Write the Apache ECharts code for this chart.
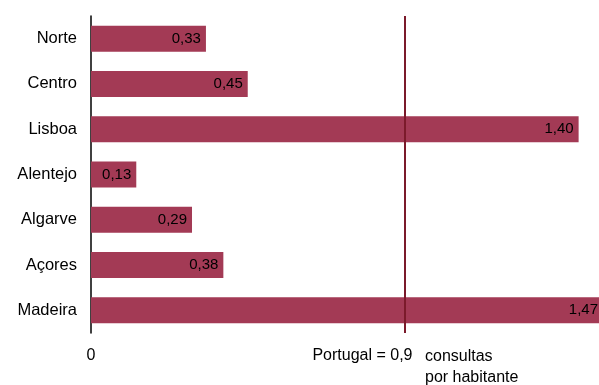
<!DOCTYPE html>
<html>
<head>
<meta charset="utf-8">
<script src="https://cdn.jsdelivr.net/npm/echarts@6/dist/echarts.min.js"></script>
<style>
  html, body { margin: 0; padding: 0; background: #fff; }
  #chart { width: 599px; height: 385px; }
</style>
</head>
<body>
<div id="chart"></div>
<script>
var regions = ["Norte", "Centro", "Lisboa", "Alentejo", "Algarve", "Açores", "Madeira"];
var consultas = [0.33, 0.45, 1.40, 0.13, 0.29, 0.38, 1.47];
var portugal = 0.9;
var tickValues = [0, 0.9];

var font = "Liberation Sans, Arial, sans-serif";

function comma(v, d) {
  return v.toFixed(d).replace(".", ",");
}

var chart = echarts.init(document.getElementById("chart"));

chart.setOption({
  animation: false,
  textStyle: { fontFamily: font },
  grid: { left: 91, top: 16, height: 317, width: 512, outerBoundsMode: "none", containLabel: false },
  xAxis: {
    type: "value",
    min: 0,
    max: 1.47,
    axisLine: { show: false },
    axisTick: { show: false },
    splitLine: { show: false },
    axisLabel: {
      customValues: tickValues,
      margin: 15,
      color: "#000",
      fontSize: 16,
      fontFamily: font,
      formatter: function (v) {
        if (v === 0) return "{z|0}";
        return "{p|Portugal = " + comma(v, 1) + "}";
      },
      rich: {
        z: { fontSize: 16, fontFamily: font, color: "#000" },
        p: { fontSize: 16, fontFamily: font, color: "#000", padding: [0, 84, 0, 0] }
      }
    }
  },
  yAxis: {
    type: "category",
    data: regions,
    inverse: true,
    axisTick: { show: false },
    axisLine: { lineStyle: { color: "#000", width: 1.5 } },
    axisLabel: { color: "#000", fontSize: 16.5, fontFamily: font, margin: 14 }
  },
  graphic: [{
    type: "text",
    left: 425,
    top: 346,
    style: {
      text: "consultas\npor habitante",
      fill: "#000",
      font: "16px " + font,
      lineHeight: 21
    }
  }],
  series: [{
    type: "bar",
    data: consultas,
    barWidth: 26,
    itemStyle: { color: "#a33a55" },
    label: {
      show: true,
      position: "insideRight",
      distance: 5,
      color: "#000",
      fontSize: 15,
      fontFamily: font,
      formatter: function (p) { return comma(p.value, 2); }
    },
    markLine: {
      silent: true,
      symbol: "none",
      label: { show: false },
      lineStyle: { color: "#7b1a2b", width: 2, type: "solid" },
      data: [{ xAxis: portugal }]
    }
  }]
});
</script>
</body>
</html>
